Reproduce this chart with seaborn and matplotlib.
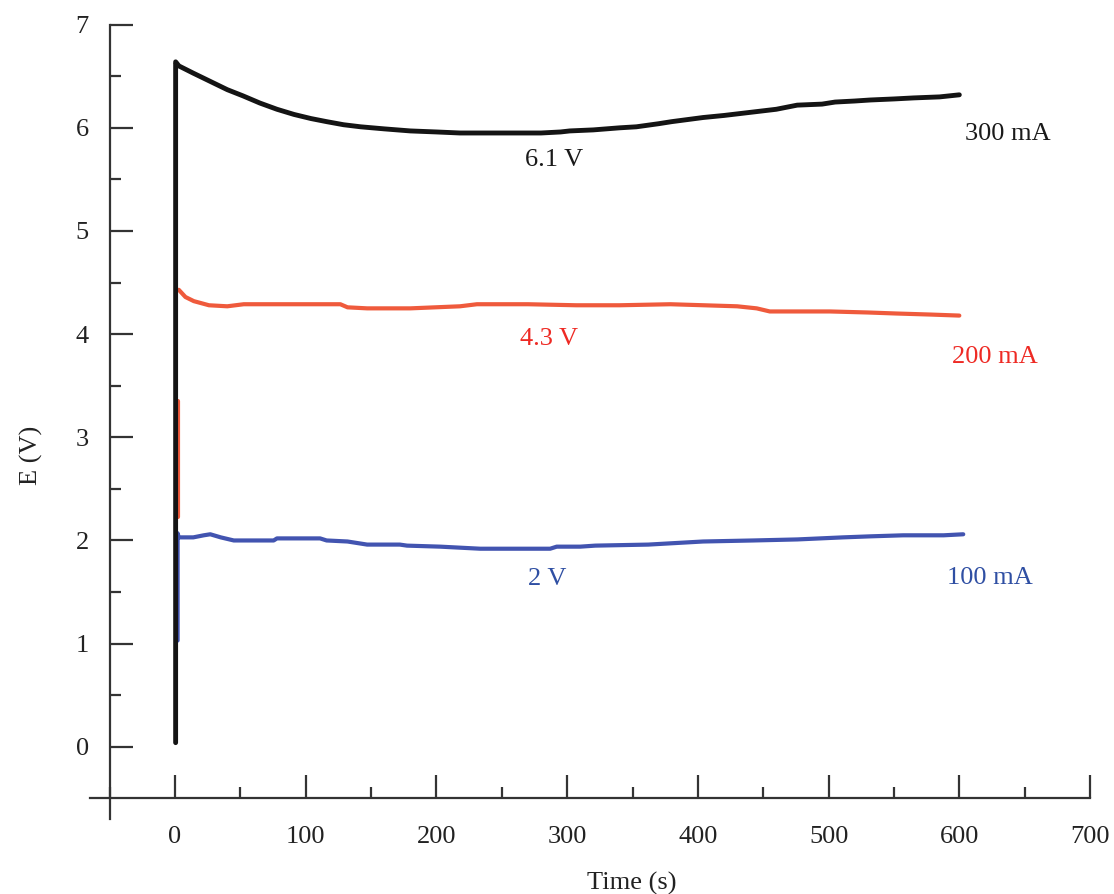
import matplotlib
matplotlib.use("Agg")
import matplotlib.pyplot as plt
import numpy as np
import pandas as pd
import seaborn as sns
from matplotlib.ticker import MultipleLocator

# Chronopotentiometry traces: time (s) vs potential E (V)
t_300 = [0.5, 0.5, 3, 14, 27, 40, 52, 65, 78, 91, 104, 116, 129, 142, 160, 180, 200,
         218, 240, 260, 280, 295, 302, 320, 340, 353, 370, 380, 404, 420, 440, 460,
         476, 495, 505, 520, 532, 550, 565, 585, 600]
e_300 = [0.04, 6.64, 6.60, 6.53, 6.45, 6.37, 6.31, 6.24, 6.18, 6.13, 6.09, 6.06, 6.03,
         6.01, 5.99, 5.97, 5.96, 5.95, 5.95, 5.95, 5.95, 5.96, 5.97, 5.98, 6.00, 6.01,
         6.04, 6.06, 6.10, 6.12, 6.15, 6.18, 6.22, 6.23, 6.25, 6.26, 6.27, 6.28, 6.29,
         6.30, 6.32]

t_200_rise = [2.0, 2.0]
e_200_rise = [2.23, 3.35]
t_200 = [2.9, 8, 14.4, 26, 40, 52.6, 90, 126.5, 132, 147, 180, 218, 231, 270, 307,
         340, 379, 430, 445, 455, 501, 530, 552, 578, 600]
e_200 = [4.43, 4.36, 4.32, 4.28, 4.27, 4.29, 4.29, 4.29, 4.26, 4.25, 4.25, 4.27, 4.29,
         4.29, 4.28, 4.28, 4.29, 4.27, 4.25, 4.22, 4.22, 4.21, 4.20, 4.19, 4.18]

t_100 = [2.0, 2.0, 2.9, 14, 22, 27, 35, 45, 75.5, 78, 111, 116, 132, 147, 172, 177.5,
         203, 233.5, 287, 292, 310, 321.5, 362, 404, 442.5, 476, 511, 532, 557, 588, 603]
e_100 = [1.03, 2.07, 2.03, 2.03, 2.05, 2.06, 2.03, 2.00, 2.00, 2.02, 2.02, 2.00, 1.99,
         1.96, 1.96, 1.95, 1.94, 1.92, 1.92, 1.94, 1.94, 1.95, 1.96, 1.99, 2.00, 2.01,
         2.03, 2.04, 2.05, 2.05, 2.06]

x_ticks = [0, 100, 200, 300, 400, 500, 600, 700]
y_ticks = [0, 1, 2, 3, 4, 5, 6, 7]

sns.set_style("white")
plt.rcParams["font.family"] = ["Liberation Serif", "DejaVu Serif"]

BLACK = "#141414"
RED = "#ef5a3c"
BLUE = "#4254b0"

fig = plt.figure(figsize=(11.14, 8.94), dpi=100)
ax = fig.add_axes([0.0808, 0.0839, 0.8977, 0.8885])

df_300 = pd.DataFrame({"t": t_300, "E": e_300})
df_200 = pd.concat([
    pd.DataFrame({"t": t_200_rise, "E": e_200_rise, "seg": 0}),
    pd.DataFrame({"t": t_200, "E": e_200, "seg": 1}),
])
df_100 = pd.DataFrame({"t": t_100, "E": e_100})

sns.lineplot(data=df_100, x="t", y="E", ax=ax, color=BLUE, linewidth=3.0,
             sort=False, estimator=None, zorder=2)
sns.lineplot(data=df_200, x="t", y="E", units="seg", ax=ax, color=RED, linewidth=3.0,
             sort=False, estimator=None, zorder=2)
sns.lineplot(data=df_300, x="t", y="E", ax=ax, color=BLACK, linewidth=3.5,
             sort=False, estimator=None, zorder=3)

# Crossing axes, offset from the plotting area
ax.set_xlim(-65, 700)
ax.set_ylim(-0.7, 7)
for side in ("top", "right"):
    ax.spines[side].set_visible(False)
ax.spines["left"].set_position(("data", -50))
ax.spines["bottom"].set_position(("data", -0.5))
for side in ("left", "bottom"):
    ax.spines[side].set_color("#333333")
    ax.spines[side].set_linewidth(1.6)

ax.set_xticks(x_ticks)
ax.set_yticks(y_ticks)
ax.xaxis.set_minor_locator(MultipleLocator(50))
ax.set_yticks(np.arange(0.5, 7, 1.0), minor=True)
ax.tick_params(which="both", direction="in", color="#333333", width=1.6,
               bottom=True, left=True, top=False, right=False,
               labelsize=19, labelcolor="#222222")
ax.tick_params(which="major", length=16.5)
ax.tick_params(which="minor", length=8)
ax.tick_params(axis="y", pad=15)
ax.tick_params(axis="x", pad=20)
ax.grid(False)

ax.set_xlabel("Time (s)", fontsize=19, color="#222222")
ax.set_ylabel("E (V)", fontsize=19, color="#222222")
ax.xaxis.set_label_coords(0.542, -0.066)
ax.yaxis.set_label_coords(-0.047, 0.458)

notes = [
    (290, 5.71, "6.1 V", "#1a1a1a"),
    (637, 5.96, "300 mA", "#1a1a1a"),
    (286, 3.98, "4.3 V", "#ee2a24"),
    (627, 3.80, "200 mA", "#ee2a24"),
    (285, 1.65, "2 V", "#2f4fa3"),
    (623, 1.66, "100 mA", "#2f4fa3"),
]
for x, y, s, c in notes:
    ax.text(x, y, s, color=c, fontsize=19, ha="center", va="center_baseline")

fig.savefig("out.png", dpi=100, facecolor="white")
